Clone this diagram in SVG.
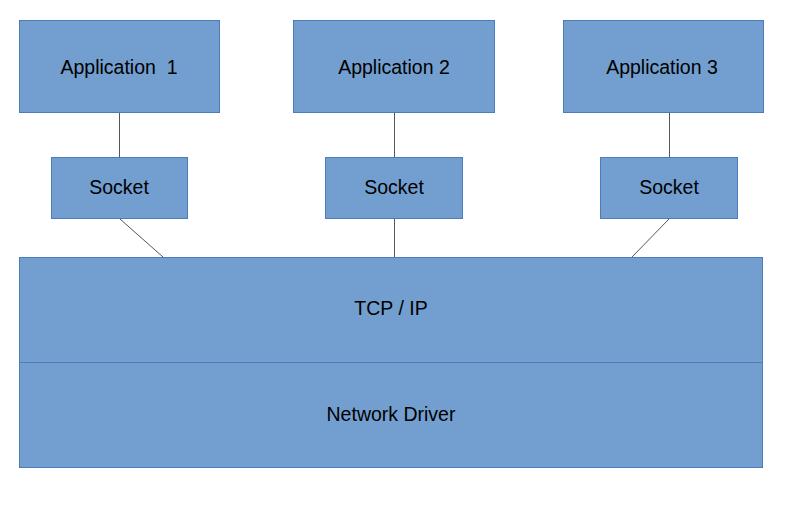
<svg xmlns="http://www.w3.org/2000/svg" width="800" height="505" viewBox="0 0 800 505">
<style>
.box{fill:#729fcf;stroke:#4a7dbb;stroke-width:1}
.lbl{font-family:"Liberation Sans",Arial,sans-serif;font-size:19.5px;fill:#000;text-anchor:middle;white-space:pre}
.conn{stroke:#555;stroke-width:1;fill:none}
</style>
<rect width="800" height="505" fill="#fff"/>
<g id="connectors">
<line class="conn" x1="119.5" y1="113" x2="119.5" y2="157"/>
<line class="conn" x1="394.5" y1="113" x2="394.5" y2="157"/>
<line class="conn" x1="669.5" y1="113" x2="669.5" y2="157"/>
<line class="conn" x1="120" y1="219" x2="163" y2="257"/>
<line class="conn" x1="394.5" y1="219" x2="394.5" y2="257"/>
<line class="conn" x1="669" y1="219" x2="632" y2="257"/>
</g>
<g id="app1"><rect class="box" x="19.5" y="20.5" width="200" height="92"/><text class="lbl" x="119" y="74" xml:space="preserve">Application  1</text></g>
<g id="app2"><rect class="box" x="293.5" y="20.5" width="201" height="92"/><text class="lbl" x="394" y="74">Application 2</text></g>
<g id="app3"><rect class="box" x="563.5" y="20.5" width="200" height="92"/><text class="lbl" x="662" y="74">Application 3</text></g>
<g id="socket1"><rect class="box" x="51.5" y="157.5" width="136" height="61"/><text class="lbl" x="119" y="194">Socket</text></g>
<g id="socket2"><rect class="box" x="325.5" y="157.5" width="137" height="61"/><text class="lbl" x="394" y="194">Socket</text></g>
<g id="socket3"><rect class="box" x="600.5" y="157.5" width="137" height="61"/><text class="lbl" x="669" y="194">Socket</text></g>
<g id="tcpip"><rect class="box" x="19.5" y="257.5" width="743" height="105"/><text class="lbl" x="391" y="315">TCP / IP</text></g>
<g id="driver"><rect class="box" x="19.5" y="362.5" width="743" height="105"/><text class="lbl" x="391" y="421">Network Driver</text></g>
</svg>
